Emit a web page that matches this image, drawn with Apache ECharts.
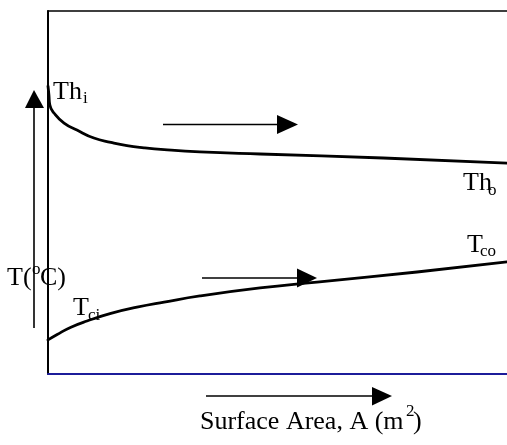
<!DOCTYPE html>
<html>
<head>
<meta charset="utf-8">
<script src="https://cdn.jsdelivr.net/npm/echarts@6/dist/echarts.min.js"></script>
<style>
html,body{margin:0;padding:0;background:#fff;}
#c{width:507px;height:445px;}
</style>
</head>
<body>
<div id="c"></div>
<script>
// Surface area (relative, 0-100) and temperatures (relative, 0-100)
var hotArea  = [0, 0.2, 0.4, 1.3, 3.5, 6.3, 10.0, 13.7, 17.2, 20.9, 25.3, 33.1, 46.2, 73.0, 100];
var hotTemp  = [79.3, 76.9, 74.1, 71.9, 69.1, 67.2, 65.0, 63.8, 62.9, 62.3, 61.8, 61.2, 60.6, 59.5, 58.1];
var coldArea = [0, 2.0, 5.0, 8.5, 13.7, 19.4, 25.3, 33.1, 46.2, 58.6, 80.4, 100];
var coldTemp = [9.4, 10.9, 12.9, 14.6, 16.7, 18.4, 19.8, 21.5, 23.7, 25.3, 28.1, 30.9];

function pairs(xs, ys){ return xs.map(function(x,i){ return [x, ys[i]]; }); }

var FONT = '"Liberation Serif", "Times New Roman", serif';
var BIG = 26, SMALL = 17;

function pos(x, y, s, size){
  return {type:'text', x:x, y:y, silent:true,
    style:{text:s, fill:'#000', font: size + 'px ' + FONT, verticalAlign:'middle', align:'left'}};
}
function shaft(x1,y1,x2,y2){
  return {type:'line', silent:true, shape:{x1:x1,y1:y1,x2:x2,y2:y2}, style:{stroke:'#000', lineWidth:1.6}};
}
function head(p){
  return {type:'polygon', silent:true, shape:{points:p}, style:{fill:'#000'}};
}

var chart = echarts.init(document.getElementById('c'), null, {renderer:'canvas'});
chart.setOption({
  animation:false,
  backgroundColor:'#fff',
  grid:{left:48, right:0, top:11, bottom:71, containLabel:false},
  xAxis:[
    {type:'value', min:0, max:100, position:'bottom',
     axisLine:{show:true, onZero:false, lineStyle:{color:'#1c1c9a', width:2}},
     axisTick:{show:false}, axisLabel:{show:false}, splitLine:{show:false}},
    {type:'value', min:0, max:100, position:'top',
     axisLine:{show:true, onZero:false, lineStyle:{color:'#000', width:1.6}},
     axisTick:{show:false}, axisLabel:{show:false}, splitLine:{show:false}}
  ],
  yAxis:{type:'value', min:0, max:100,
     axisLine:{show:true, onZero:false, lineStyle:{color:'#000', width:2}},
     axisTick:{show:false}, axisLabel:{show:false}, splitLine:{show:false}},
  series:[
    {type:'line', name:'Hot', data:pairs(hotArea, hotTemp), smooth:true,
     showSymbol:false, symbol:'none', sampling:null,
     lineStyle:{color:'#000', width:2.8, cap:'round', join:'round'}},
    {type:'line', name:'Cold', data:pairs(coldArea, coldTemp), smooth:true,
     showSymbol:false, symbol:'none', sampling:null,
     lineStyle:{color:'#000', width:2.8, cap:'round', join:'round'}}
  ],
  graphic:[
    // arrows
    shaft(34,328,34,106), head([[34,90],[25,108],[44,108]]),
    shaft(163,124.5,279,124.5), head([[298,124.5],[277,115],[277,134]]),
    shaft(202,278,299,278), head([[317,278],[297,268.5],[297,287.5]]),
    shaft(206,396,374,396), head([[392,396],[372,387],[372,405.5]]),
    // labels
    pos(53,92,'Th',BIG), pos(83,99,'i',SMALL),
    pos(463,183.5,'Th',BIG), pos(488,191,'o',SMALL),
    pos(467,245,'T',BIG), pos(480,252,'co',SMALL),
    pos(7,278,'T(',BIG), pos(32,270,'o',SMALL), pos(40,278,'C)',BIG),
    pos(73,308.5,'T',BIG), pos(88,316,'ci',SMALL),
    pos(200,422,'Surface Area, A (m',BIG), pos(406,412,'2',SMALL), pos(413,422,')',BIG)
  ]
});
</script>
</body>
</html>
